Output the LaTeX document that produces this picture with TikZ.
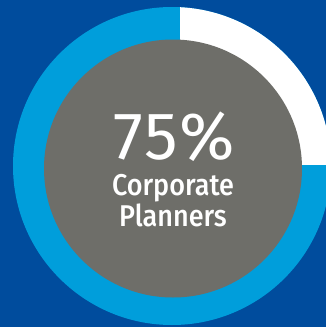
\documentclass[tikz,border=0pt]{standalone}
\usepackage{fontspec}
\setmainfont{Fira Sans}[BoldFont={Fira Sans Medium}]
\newfontfamily\pctfont{Fira Sans}[LetterSpace=4]
\definecolor{bgblue}{RGB}{0,76,157}
\definecolor{ringblue}{RGB}{0,158,219}
\definecolor{discgray}{RGB}{110,110,105}
\tikzset{
  bigtext/.style={text=white, inner sep=0pt, anchor=base, font=\pctfont\fontsize{67}{67}\selectfont},
  captext/.style={text=white, inner sep=0pt, anchor=base, align=center, xscale=0.9, font=\bfseries\fontsize{30}{27}\selectfont}
}
\begin{document}
\begin{tikzpicture}[x=1pt, y=-1pt]
  % 1. Define the coordinates
  \coordinate (RC) at (172,166);   % ring centre
  \coordinate (DC) at (173,168.5); % disc centre
  \coordinate (QC) at (180,164);   % corner of the white quarter
  \coordinate (QE) at (340,-10);   % far corner of the white quarter

  % 2. Background
  \fill[bgblue] (0,0) rectangle (326,327);
  \useasboundingbox (0,0) rectangle (326,327);

  % 3. The ring, with its white quarter
  \fill[ringblue] (RC) circle (159pt);
  \begin{scope}
    \clip (QC) rectangle (QE);
    \fill[white] (RC) circle (159pt);
  \end{scope}

  % 4. The grey disc
  \fill[discgray] (DC) circle (129pt);

  % 5. Labels (base of the caption is its last line)
  \node[bigtext] (pct) at (174,159) {75\%};
  \node[captext] (cap) at (173,226) {Corporate\\Planners};
\end{tikzpicture}
\end{document}
